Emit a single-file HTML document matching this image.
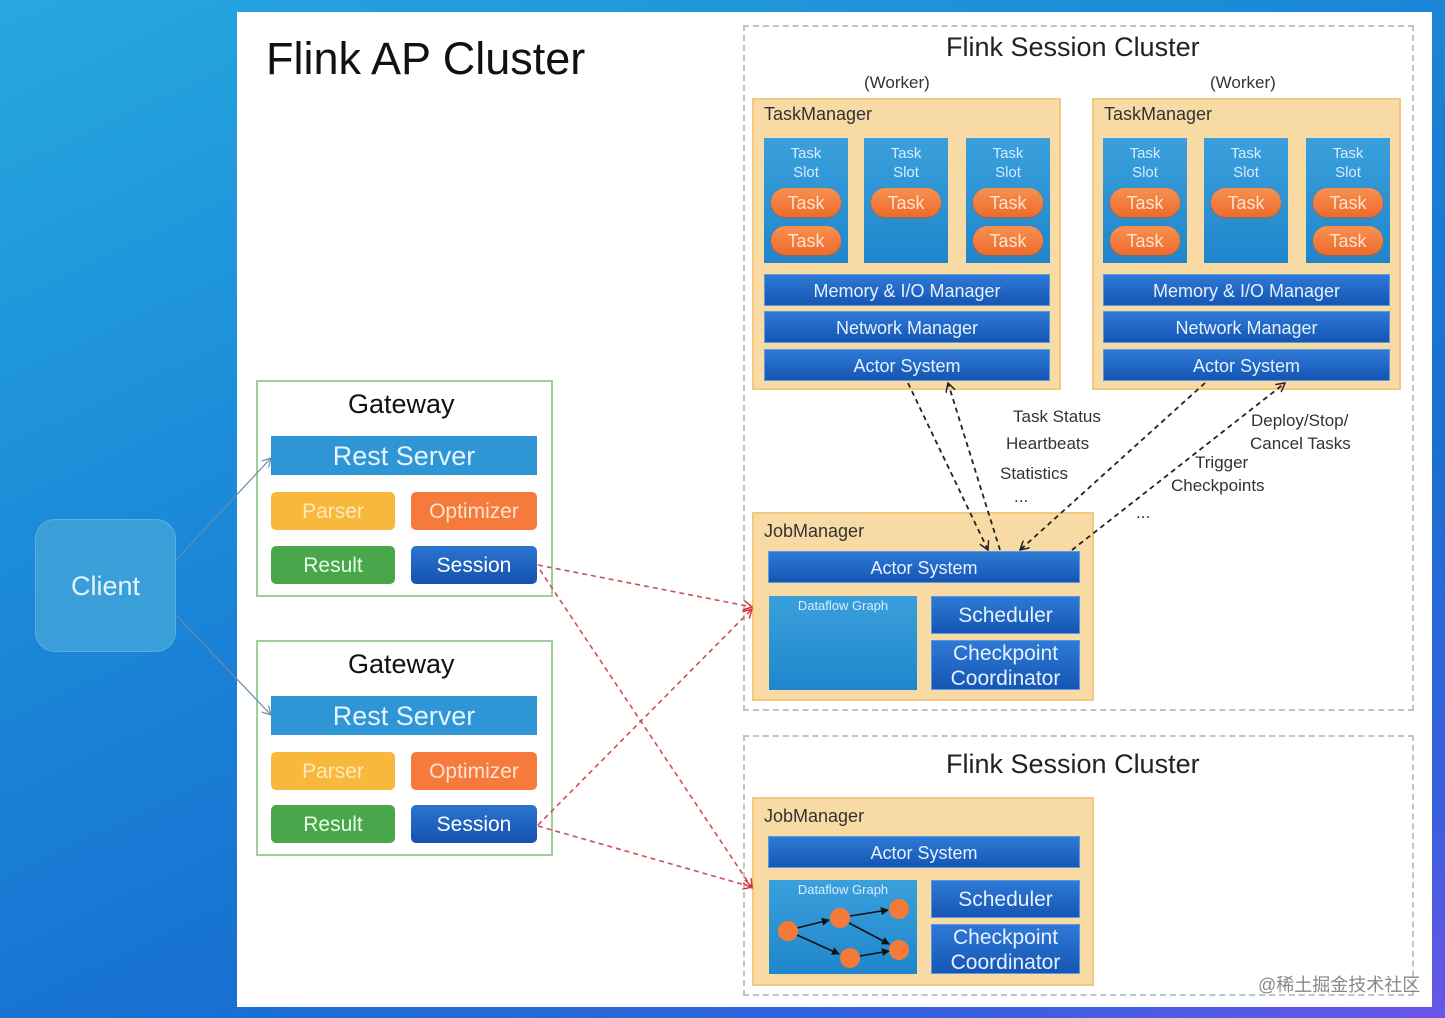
<!DOCTYPE html>
<html><head><meta charset="utf-8"><style>
*{margin:0;padding:0;box-sizing:border-box}
body{width:1445px;height:1018px;overflow:hidden;position:relative;font-family:"Liberation Sans","Noto Sans CJK SC",sans-serif;background:linear-gradient(155deg,#27a8de 0%,#1b8ad8 35%,#1770d2 65%,#3b5fe0 88%,#6a55e8 100%)}
.a{position:absolute}
.panel{left:237px;top:12px;width:1195px;height:995px;background:#fff}
.dash{border:2px dashed #bcc8bc}
.tm{background:#f8dba4;border:2px solid #f3c77e}
.slot{background:linear-gradient(#3aa0dc,#1f86cc);color:#d8ecff;font-size:15px;text-align:center;line-height:19px;padding-top:6px}
.pill{position:absolute;left:7px;width:70px;height:29px;border-radius:15px;background:linear-gradient(#f79150,#ee6b2c);color:#ffe3cf;font-size:18px;line-height:31px;text-align:center;box-shadow:0 1px 2px #b06030}
.bar{background:linear-gradient(#2e7ad6,#1655b4);color:#e6f0ff;font-size:18px;text-align:center;border:1px solid #5a9ae0}
.lbl{font-size:18px;color:#333}
.gw{border:2px solid #9ccf9c;background:#fff}
.btn{border-radius:5px;color:#fff;text-align:center;font-size:21px}
.t{color:#333;font-size:17px}
</style></head><body>
<div class="a panel"></div>
<div class="a" style="left:266px;top:33px;font-size:45px;color:#111">Flink AP Cluster</div>

<div class="a dash" style="left:743px;top:25px;width:671px;height:686px"></div>
<div class="a" style="left:946px;top:32px;font-size:27px;color:#222">Flink Session Cluster</div>
<div class="a t" style="left:864px;top:73px">(Worker)</div>
<div class="a t" style="left:1210px;top:73px">(Worker)</div>

<div class="a tm" style="left:752px;top:98px;width:309px;height:292px"></div>
<div class="a lbl" style="left:764px;top:104px">TaskManager</div>
<div class="a slot" style="left:764px;top:138px;width:84px;height:125px">Task<br>Slot<div class="pill" style="top:50px">Task</div><div class="pill" style="top:88px">Task</div></div>
<div class="a slot" style="left:864px;top:138px;width:84px;height:125px">Task<br>Slot<div class="pill" style="top:50px">Task</div></div>
<div class="a slot" style="left:966px;top:138px;width:84px;height:125px">Task<br>Slot<div class="pill" style="top:50px">Task</div><div class="pill" style="top:88px">Task</div></div>
<div class="a bar" style="left:764px;top:274px;width:286px;height:32px;line-height:32px">Memory &amp; I/O Manager</div>
<div class="a bar" style="left:764px;top:311px;width:286px;height:32px;line-height:32px">Network Manager</div>
<div class="a bar" style="left:764px;top:349px;width:286px;height:32px;line-height:32px">Actor System</div>

<div class="a tm" style="left:1092px;top:98px;width:309px;height:292px"></div>
<div class="a lbl" style="left:1104px;top:104px">TaskManager</div>
<div class="a slot" style="left:1103px;top:138px;width:84px;height:125px">Task<br>Slot<div class="pill" style="top:50px">Task</div><div class="pill" style="top:88px">Task</div></div>
<div class="a slot" style="left:1204px;top:138px;width:84px;height:125px">Task<br>Slot<div class="pill" style="top:50px">Task</div></div>
<div class="a slot" style="left:1306px;top:138px;width:84px;height:125px">Task<br>Slot<div class="pill" style="top:50px">Task</div><div class="pill" style="top:88px">Task</div></div>
<div class="a bar" style="left:1103px;top:274px;width:287px;height:32px;line-height:32px">Memory &amp; I/O Manager</div>
<div class="a bar" style="left:1103px;top:311px;width:287px;height:32px;line-height:32px">Network Manager</div>
<div class="a bar" style="left:1103px;top:349px;width:287px;height:32px;line-height:32px">Actor System</div>

<div class="a t" style="left:1013px;top:407px">Task Status</div>
<div class="a t" style="left:1006px;top:434px">Heartbeats</div>
<div class="a t" style="left:1000px;top:464px">Statistics</div>
<div class="a t" style="left:1014px;top:487px">...</div>
<div class="a t" style="left:1251px;top:411px">Deploy/Stop/</div>
<div class="a t" style="left:1250px;top:434px">Cancel Tasks</div>
<div class="a t" style="left:1195px;top:453px">Trigger</div>
<div class="a t" style="left:1171px;top:476px">Checkpoints</div>
<div class="a t" style="left:1136px;top:503px">...</div>

<div class="a tm" style="left:752px;top:512px;width:342px;height:189px"></div>
<div class="a lbl" style="left:764px;top:521px">JobManager</div>
<div class="a bar" style="left:768px;top:551px;width:312px;height:32px;line-height:32px">Actor System</div>
<div class="a slot" style="left:769px;top:596px;width:148px;height:94px;font-size:13px;padding-top:0">Dataflow Graph</div>
<div class="a bar" style="left:931px;top:596px;width:149px;height:38px;line-height:38px;font-size:21px">Scheduler</div>
<div class="a bar" style="left:931px;top:640px;width:149px;height:50px;line-height:25px;font-size:21px">Checkpoint<br>Coordinator</div>

<div class="a dash" style="left:743px;top:735px;width:671px;height:261px"></div>
<div class="a" style="left:946px;top:749px;font-size:27px;color:#222">Flink Session Cluster</div>
<div class="a tm" style="left:752px;top:797px;width:342px;height:189px"></div>
<div class="a lbl" style="left:764px;top:806px">JobManager</div>
<div class="a bar" style="left:768px;top:836px;width:312px;height:32px;line-height:32px">Actor System</div>
<div class="a slot" style="left:769px;top:880px;width:148px;height:94px;font-size:13px;padding-top:0">Dataflow Graph</div>
<div class="a bar" style="left:931px;top:880px;width:149px;height:38px;line-height:38px;font-size:21px">Scheduler</div>
<div class="a bar" style="left:931px;top:924px;width:149px;height:50px;line-height:25px;font-size:21px">Checkpoint<br>Coordinator</div>

<div class="a gw" style="left:256px;top:380px;width:297px;height:217px"></div>
<div class="a" style="left:348px;top:389px;font-size:27px;color:#111">Gateway</div>
<div class="a btn" style="left:271px;top:436px;width:266px;height:39px;line-height:41px;background:#2f96d6;border-radius:0;font-size:27px;color:#e6f4ff">Rest Server</div>
<div class="a btn" style="left:271px;top:492px;width:124px;height:38px;line-height:40px;background:#f8b83c;color:#ffe9b8">Parser</div>
<div class="a btn" style="left:411px;top:492px;width:126px;height:38px;line-height:40px;background:#f57a3c;color:#ffe3d0">Optimizer</div>
<div class="a btn" style="left:271px;top:546px;width:124px;height:38px;line-height:40px;background:#4aa64a;color:#e6ffe6">Result</div>
<div class="a btn" style="left:411px;top:546px;width:126px;height:38px;line-height:40px;background:linear-gradient(#2a75d0,#1552ae)">Session</div>

<div class="a gw" style="left:256px;top:640px;width:297px;height:216px"></div>
<div class="a" style="left:348px;top:649px;font-size:27px;color:#111">Gateway</div>
<div class="a btn" style="left:271px;top:696px;width:266px;height:39px;line-height:41px;background:#2f96d6;border-radius:0;font-size:27px;color:#e6f4ff">Rest Server</div>
<div class="a btn" style="left:271px;top:752px;width:124px;height:38px;line-height:40px;background:#f8b83c;color:#ffe9b8">Parser</div>
<div class="a btn" style="left:411px;top:752px;width:126px;height:38px;line-height:40px;background:#f57a3c;color:#ffe3d0">Optimizer</div>
<div class="a btn" style="left:271px;top:805px;width:124px;height:38px;line-height:40px;background:#4aa64a;color:#e6ffe6">Result</div>
<div class="a btn" style="left:411px;top:805px;width:126px;height:38px;line-height:40px;background:linear-gradient(#2a75d0,#1552ae)">Session</div>

<div class="a" style="left:35px;top:519px;width:141px;height:133px;border-radius:20px;background:#3a9fd8;border:1px solid #55b0e2;color:#e4f4ff;font-size:27px;text-align:center;line-height:133px">Client</div>

<div class="a" style="left:1258px;top:971px;font-size:18px;color:#888">@稀土掘金技术社区</div>

<svg class="a" style="left:0;top:0" width="1445" height="1018">
<defs>
<marker id="k" markerWidth="10" markerHeight="10" refX="9" refY="5" orient="auto" markerUnits="userSpaceOnUse"><path d="M0,0 L9,5 L0,10" fill="none" stroke="#222" stroke-width="1.5"/></marker>
<marker id="r" markerWidth="10" markerHeight="10" refX="9" refY="5" orient="auto" markerUnits="userSpaceOnUse"><path d="M0,0 L9,5 L0,10" fill="none" stroke="#d33" stroke-width="1.5"/></marker>
<marker id="g" markerWidth="10" markerHeight="10" refX="9" refY="5" orient="auto" markerUnits="userSpaceOnUse"><path d="M0,0 L9,5 L0,10" fill="none" stroke="#6a8ca8" stroke-width="1.2"/></marker>
<marker id="s" markerWidth="8" markerHeight="8" refX="7" refY="4" orient="auto" markerUnits="userSpaceOnUse"><path d="M0,0 L8,4 L0,8 z" fill="#111"/></marker>
</defs>
<g stroke="#222" stroke-width="1.8" stroke-dasharray="5,4" fill="none">
<line x1="908" y1="383" x2="988" y2="550" marker-end="url(#k)"/>
<line x1="1000" y1="550" x2="948" y2="383" marker-end="url(#k)"/>
<line x1="1205" y1="383" x2="1020" y2="550" marker-end="url(#k)"/>
<line x1="1072" y1="550" x2="1285" y2="383" marker-end="url(#k)"/>
</g>
<g stroke="#d05050" stroke-width="1.6" stroke-dasharray="5,4" fill="none">
<line x1="538" y1="565" x2="752" y2="607" marker-end="url(#r)"/>
<line x1="540" y1="570" x2="752" y2="888" marker-end="url(#r)"/>
<line x1="538" y1="825" x2="752" y2="609" marker-end="url(#r)"/>
<line x1="538" y1="826" x2="752" y2="887" marker-end="url(#r)"/>
</g>
<g stroke="#6a8ca8" stroke-width="1.2" fill="none">
<line x1="176" y1="560" x2="271" y2="458" marker-end="url(#g)"/>
<line x1="176" y1="615" x2="271" y2="715" marker-end="url(#g)"/>
</g>
<g stroke="#111" stroke-width="1.6" marker-end="url(#s)">
<line x1="797" y1="928" x2="829" y2="920"/>
<line x1="797" y1="935" x2="839" y2="954"/>
<line x1="850" y1="916" x2="888" y2="910"/>
<line x1="849" y1="923" x2="889" y2="944"/>
<line x1="860" y1="956" x2="889" y2="951"/>
</g>
<g fill="#f47a3a">
<circle cx="788" cy="931" r="10"/><circle cx="840" cy="918" r="10"/><circle cx="850" cy="958" r="10"/><circle cx="899" cy="909" r="10"/><circle cx="899" cy="950" r="10"/>
</g>
</svg>
</body></html>
